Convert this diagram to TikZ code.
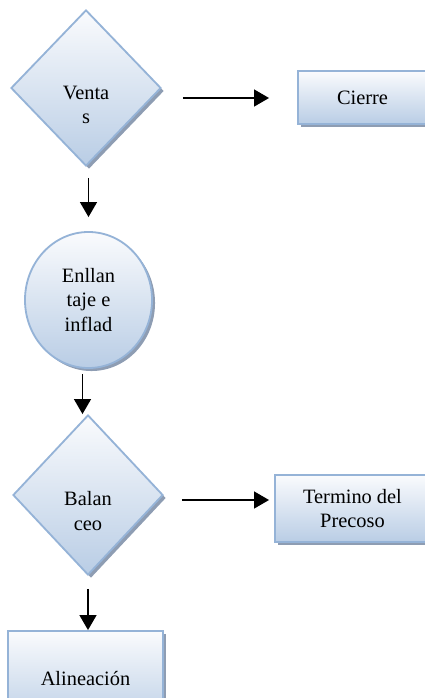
\documentclass[tikz,border=0pt]{standalone}
\usepackage{fontspec}
\setmainfont{Liberation Serif}
\usepackage{tikz}
\usetikzlibrary{shapes.geometric,shadows,arrows.meta}

\definecolor{borde}{HTML}{95B3D7}
\definecolor{arriba}{HTML}{FAFBFD}
\definecolor{abajo}{HTML}{B9CDE5}
\definecolor{sombra}{HTML}{8E9DB3}

\begin{document}
\begin{tikzpicture}[x=0.025cm, y=-0.025cm,
    font=\fontsize{14.5}{17.4}\selectfont,
    forma/.style={draw=borde, line width=1.3pt, top color=arriba, bottom color=abajo,
      drop shadow={shadow xshift=0.075cm, shadow yshift=-0.075cm, fill=sombra, opacity=1},
      align=center, inner sep=0pt},
    rombo/.style={forma, diamond},
    circulo/.style={forma, ellipse},
    caja/.style={forma, rectangle},
    texto/.style={align=center, inner sep=0pt},
    flecha/.style={line width=1.4pt, -{Triangle[length=0.375cm, width=0.42cm]}}]
  \useasboundingbox (0,0) rectangle (425,698);
  \clip (0,0) rectangle (425,698);

  \draw (86,88) node[rombo, minimum width=3.75cm, minimum height=3.9cm] (ventas) {};
  \draw (86,105) node[texto] (ventas-txt) {Venta\\s};
  \draw (362.5,97.5) node[caja, minimum width=3.225cm, minimum height=1.325cm] (cierre) {Cierre};

  \draw (88.5,300) node[circulo, minimum width=3.175cm, minimum height=3.4cm] (enllantaje) {Enllan\\taje e\\inflad};

  \draw (88,495) node[rombo, minimum width=3.75cm, minimum height=4cm] (balanceo) {};
  \draw (88,511) node[texto] (balanceo-txt) {Balan\\ceo};
  \draw (352.5,508.5) node[caja, minimum width=3.875cm, minimum height=1.675cm] (termino) {Termino del\\Precoso};

  \draw (85.5,679) node[caja, minimum width=3.875cm, minimum height=2.4cm] (alineacion) {Alineación};

  \draw[flecha, shorten <=0.525cm, shorten >=0.7cm] ([yshift=-0.25cm]ventas.east) -- ([yshift=-0.25cm]ventas.east -| cierre.west);
  \draw[flecha, shorten <=0.275cm, shorten >=0.35cm] (enllantaje.north |- ventas.south) -- (enllantaje.north);
  \draw[flecha, shorten <=0.125cm] ([xshift=-0.15cm]enllantaje.south) -- ([xshift=-0.15cm]enllantaje.south |- balanceo.north);
  \draw[flecha, shorten <=0.45cm, shorten >=0.125cm] ([yshift=-0.125cm]balanceo.east) -- ([yshift=-0.125cm]balanceo.east -| termino.west);
  \draw[flecha, shorten <=0.325cm] (balanceo.south) -- (balanceo.south |- alineacion.north);
\end{tikzpicture}
\end{document}
